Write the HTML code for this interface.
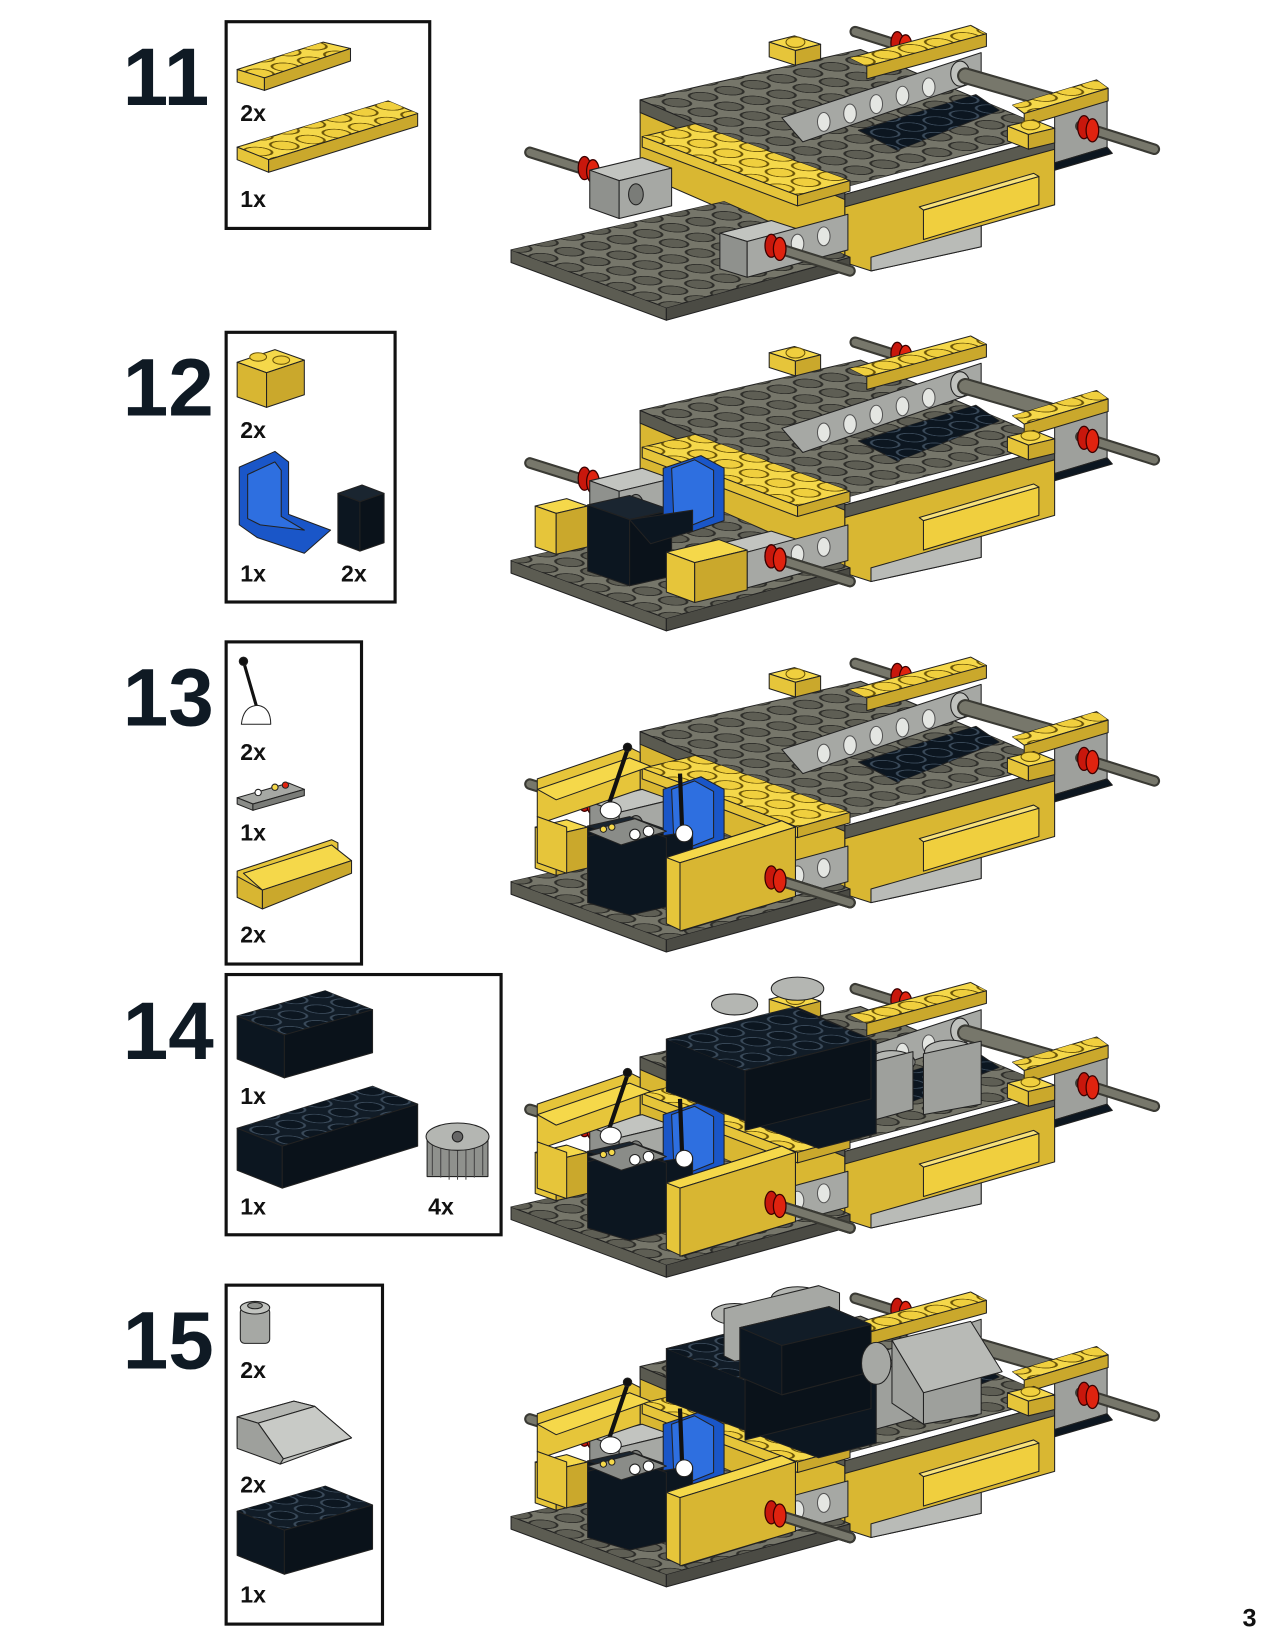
<!DOCTYPE html>
<html><head><meta charset="utf-8"><style>
html,body{margin:0;padding:0;background:#fff}
svg{display:block}
</style></head><body>
<svg width="1275" height="1650" viewBox="0 0 1215 1572" xmlns="http://www.w3.org/2000/svg" xmlns:xlink="http://www.w3.org/1999/xlink">
<defs>
<pattern id="sG" patternUnits="userSpaceOnUse" width="1" height="1" patternTransform="matrix(25,-5.7,24.7,9.2,0,0)"><ellipse cx=".5" cy=".5" rx=".38" ry=".38" fill="#5e5e54" stroke="#2e2e2a" stroke-width=".07"/></pattern>
<pattern id="sY" patternUnits="userSpaceOnUse" width="1" height="1" patternTransform="matrix(25,-5.7,24.7,9.2,0,0)"><ellipse cx=".5" cy=".5" rx=".38" ry=".38" fill="#f0cf3e" stroke="#6a5408" stroke-width=".07"/></pattern>
<pattern id="sB" patternUnits="userSpaceOnUse" width="1" height="1" patternTransform="matrix(25,-5.7,24.7,9.2,0,0)"><ellipse cx=".5" cy=".5" rx=".38" ry=".38" fill="#0c1620" stroke="#3a4a5a" stroke-width=".07"/></pattern>

<g id="axleL" stroke-linejoin="round">
  <line x1="0" y1="0" x2="70" y2="22" stroke="#3a3a34" stroke-width="11" stroke-linecap="round"/>
  <line x1="0" y1="0" x2="70" y2="22" stroke="#77776b" stroke-width="7" stroke-linecap="round"/>
</g>
<g id="bush"><ellipse cx="0" cy="0" rx="6" ry="11" fill="#c8170c" stroke="#3a0000" stroke-width="1.2"/><ellipse cx="8" cy="3" rx="6" ry="11" fill="#e0230f" stroke="#3a0000" stroke-width="1.2"/></g>

<g id="m11" stroke="#222" stroke-width="1" stroke-linejoin="round">
  <use href="#axleL" x="815" y="30"/>
  <use href="#bush" x="855" y="41"/>
  <polygon points="805,185 1005,130 1005,195 935,215 935,235 830,258 805,250" fill="#d9b732"/>
  <polygon points="805,185 1005,130 1005,142 805,197" fill="#5a5a50"/>
  <polygon points="830,245 935,215 935,235 830,258" fill="#b9bbb7"/>
  <polygon points="880,200 990,168 990,195 880,228" fill="#f0cf3e"/>
  <polygon points="880,200 990,168 985,165 876,197" fill="#f8e27a"/>
  <polygon points="1005,105 1055,92 1055,140 1005,155" fill="#9ea09c"/>
  <polygon points="1005,155 1055,140 1060,146 1005,162" fill="#0c1620"/>
  <polygon points="610,95 805,178 805,250 610,165" fill="#d9b732"/>
  <polygon points="610,95 820,47 1005,125 805,178" fill="#76766a"/>
  <polygon points="610,95 820,47 1005,125 805,178" fill="url(#sG)" stroke="none"/>
  <polygon points="610,95 805,178 805,190 610,107" fill="#5a5a50"/>
  <polygon points="745,112 935,50 935,76 765,135" fill="#a6a8a4"/>
  <g fill="#e4e6e2" stroke="#555"><ellipse cx="785" cy="116" rx="6" ry="9"/><ellipse cx="810" cy="108" rx="6" ry="9"/><ellipse cx="835" cy="99" rx="6" ry="9"/><ellipse cx="860" cy="91" rx="6" ry="9"/><ellipse cx="885" cy="83" rx="6" ry="9"/></g>
  <ellipse cx="915" cy="70" rx="9" ry="12" fill="#c0c2be"/>
  <line x1="920" y1="72" x2="1000" y2="95" stroke="#3a3a34" stroke-width="16" stroke-linecap="round"/>
  <line x1="920" y1="72" x2="1000" y2="95" stroke="#77776b" stroke-width="12" stroke-linecap="round"/>
  <polygon points="818,124 930,90 952,105 855,143" fill="#0c1620"/>
  <polygon points="818,124 930,90 952,105 855,143" fill="url(#sB)" stroke="none"/>
  <polygon points="810,55 925,24 940,32 826,63" fill="#f5d84a"/>
  <polygon points="810,55 925,24 940,32 826,63" fill="url(#sY)" stroke="none"/>
  <polygon points="826,63 940,32 940,44 826,75" fill="#caa82c"/>
  <polygon points="733,40 757,34 782,42 758,48" fill="#f5d84a"/>
  <ellipse cx="758" cy="40" rx="9" ry="5" fill="#f0cf3e" stroke="#6a5408"/>
  <polygon points="733,40 758,48 758,62 733,54" fill="#e6c53a"/>
  <polygon points="758,48 782,42 782,56 758,62" fill="#caa82c"/>
  <polygon points="965,100 1045,76 1056,84 976,108" fill="#f5d84a"/>
  <polygon points="965,100 1045,76 1056,84 976,108" fill="url(#sY)" stroke="none"/>
  <polygon points="976,108 1056,84 1056,96 976,120" fill="#caa82c"/>
  <polygon points="960,120 985,114 1005,122 980,128" fill="#f5d84a"/>
  <ellipse cx="982" cy="119" rx="9" ry="4.5" fill="#f0cf3e" stroke="#6a5408"/>
  <polygon points="960,120 980,128 980,142 960,134" fill="#e6c53a"/>
  <polygon points="980,128 1005,122 1005,136 980,142" fill="#caa82c"/>
  <use href="#axleL" x="1030" y="120"/>
  <use href="#bush" x="1033" y="121"/>
  <polygon points="487,238 635,293 635,305 487,250" fill="#5c5c52"/>
  <polygon points="635,293 810,245 810,257 635,305" fill="#4b4b44"/>
  <polygon points="487,238 690,192 810,245 635,293" fill="#76766a"/>
  <polygon points="487,238 690,192 810,245 635,293" fill="url(#sG)" stroke="none"/>
  <use href="#axleL" x="505" y="145"/>
  <use href="#bush" x="557" y="160"/>
  <polygon points="562,162 612,150 640,160 590,172" fill="#c2c4c0"/>
  <polygon points="562,162 590,172 590,208 562,198" fill="#8f918d"/>
  <polygon points="590,172 640,160 640,196 590,208" fill="#a6a8a4"/>
  <ellipse cx="606" cy="185" rx="7" ry="10" fill="#7a7c78"/>
  <polygon points="612,130 662,118 810,172 760,186" fill="#f5d84a"/>
  <polygon points="612,130 662,118 810,172 760,186" fill="url(#sY)" stroke="none"/>
  <polygon points="612,130 760,186 760,196 612,140" fill="#e6c53a"/>
  <polygon points="760,186 810,172 810,182 760,196" fill="#caa82c"/>
  <polygon points="686,222 735,210 760,218 712,230" fill="#c2c4c0"/>
  <polygon points="686,222 712,230 712,264 686,256" fill="#8f918d"/>
  <polygon points="712,230 808,204 808,238 712,264" fill="#a6a8a4"/>
  <g fill="#e4e6e2" stroke="#555"><ellipse cx="760" cy="232" rx="6" ry="9"/><ellipse cx="785" cy="225" rx="6" ry="9"/></g>
  <use href="#axleL" x="740" y="236"/>
  <use href="#bush" x="735" y="234"/>
</g>

<g id="a12" stroke="#222" stroke-width="1" stroke-linejoin="round">
  <polygon points="510,186 540,179 560,186 530,193" fill="#f5d84a"/>
  <polygon points="510,186 530,193 530,232 510,225" fill="#e6c53a"/>
  <polygon points="530,193 560,186 560,225 530,232" fill="#caa82c"/>
  <polygon points="560,185 600,176 640,190 600,199" fill="#1a2530"/>
  <polygon points="560,185 600,199 600,262 560,248" fill="#0c1620"/>
  <polygon points="600,199 640,190 640,253 600,262" fill="#0a121a"/>
  <polygon points="632,150 668,138 690,150 690,200 655,212 632,200" fill="#1a56c8"/>
  <polygon points="640,150 662,142 680,152 680,196 660,204 642,196" fill="#2e6fe0"/>
  <polygon points="600,199 660,190 660,210 620,222" fill="#0c1620"/>
  <polygon points="635,230 685,218 712,228 662,240" fill="#f5d84a"/>
  <polygon points="635,230 662,240 662,278 635,268" fill="#e6c53a"/>
  <polygon points="662,240 712,228 712,266 662,278" fill="#caa82c"/>
  <use href="#axleL" x="740" y="236"/>
  <use href="#bush" x="735" y="234"/>
</g>

<g id="a13" stroke="#222" stroke-width="1" stroke-linejoin="round">
  <polygon points="512,140 600,110 610,115 610,150 522,180 512,176" fill="#e6c53a"/>
  <polygon points="512,150 600,120 620,128 530,160" fill="#f5d84a"/>
  <polygon points="512,176 540,186 540,230 512,220" fill="#e6c53a"/>
  <polygon points="560,195 600,184 635,196 635,262 600,270 560,258" fill="#0c1620"/>
  <polygon points="560,190 605,178 635,190 592,203" fill="#8a8c88"/>
  <circle cx="575" cy="188" r="3" fill="#f5d84a"/><circle cx="583" cy="186" r="3" fill="#f5d84a"/><circle cx="605" cy="193" r="5" fill="#fff"/><circle cx="618" cy="190" r="5" fill="#fff"/>
  <line x1="580" y1="165" x2="598" y2="112" stroke="#111" stroke-width="4"/>
  <circle cx="598" cy="110" r="4" fill="#111"/>
  <ellipse cx="582" cy="170" rx="10" ry="8" fill="#fff"/>
  <line x1="650" y1="188" x2="648" y2="135" stroke="#111" stroke-width="4"/>
  <ellipse cx="652" cy="192" rx="8" ry="8" fill="#fff"/>
  <polygon points="635,215 745,180 758,186 758,252 650,285 635,278" fill="#e6c53a"/>
  <polygon points="635,215 745,180 758,186 648,220" fill="#f5d84a"/>
  <polygon points="648,220 758,186 758,252 648,285" fill="#d8b632"/>
  <use href="#axleL" x="740" y="236"/>
  <use href="#bush" x="735" y="234"/>
</g>

<g id="a14" stroke="#222" stroke-width="1" stroke-linejoin="round">
  <g fill="#b4b6b2"><ellipse cx="700" cy="45" rx="22" ry="10"/><ellipse cx="760" cy="30" rx="25" ry="11"/><ellipse cx="850" cy="100" rx="22" ry="11"/><ellipse cx="905" cy="90" rx="24" ry="11"/></g>
  <polygon points="830,100 870,90 870,145 830,156" fill="#9ea09c"/>
  <polygon points="880,92 935,80 935,140 880,150" fill="#9ea09c"/>
  <polygon points="635,78 760,48 835,80 835,125 835,168 780,182 635,128" fill="#0c1620"/>
  <polygon points="635,78 755,48 830,78 710,108" fill="#111c27"/>
  <polygon points="635,78 755,48 830,78 710,108" fill="url(#sB)" stroke="none"/>
  <polygon points="710,108 830,78 830,135 710,165" fill="#0a121a"/>
</g>

<g id="a15" stroke="#222" stroke-width="1" stroke-linejoin="round">
  <polygon points="690,40 780,18 800,25 800,70 700,90 690,85" fill="#a6a8a4"/>
  <polygon points="705,58 790,38 830,55 830,100 745,122 705,105" fill="#0c1620"/>
  <polygon points="705,58 790,38 830,55 745,75" fill="#111c27"/>
  <polygon points="745,75 830,55 830,100 745,122" fill="#0a121a"/>
  <polygon points="850,70 925,52 955,100 880,120" fill="#b8bab6"/>
  <polygon points="850,70 880,120 880,150 850,130" fill="#9ea09c"/>
  <ellipse cx="835" cy="92" rx="14" ry="20" fill="#a6a8a4"/>
</g>
</defs>

<g font-family="Liberation Sans, sans-serif" font-weight="bold" font-size="78" fill="#0f1a24">
<text x="117" y="100">11</text>
<text x="117" y="396">12</text>
<text x="117" y="691">13</text>
<text x="117" y="1009">14</text>
<text x="117" y="1304">15</text>
</g>
<text x="1184" y="1550" font-family="Liberation Sans, sans-serif" font-weight="bold" font-size="24" fill="#111">3</text>

<g fill="none" stroke="#111" stroke-width="3">
<rect x="215.5" y="20.5" width="194" height="197"/>
<rect x="215.5" y="316.5" width="161" height="257"/>
<rect x="215.5" y="611.5" width="129" height="307"/>
<rect x="215.5" y="928.5" width="262" height="248"/>
<rect x="215.5" y="1224.5" width="149" height="323"/>
</g>
<g font-family="Liberation Sans, sans-serif" font-weight="bold" font-size="22" fill="#111">
<text x="229" y="115">2x</text><text x="229" y="197">1x</text>
<text x="229" y="417">2x</text><text x="229" y="554">1x</text><text x="325" y="554">2x</text>
<text x="229" y="724">2x</text><text x="229" y="801">1x</text><text x="229" y="898">2x</text>
<text x="229" y="1052">1x</text><text x="229" y="1157">1x</text><text x="408" y="1157">4x</text>
<text x="229" y="1313">2x</text><text x="229" y="1422">2x</text><text x="229" y="1527">1x</text>
</g>
<g stroke="#222" stroke-width="1" stroke-linejoin="round">
<polygon points="226,66 308,40 334,46 252,74" fill="#f5d84a"/>
<polygon points="226,66 308,40 334,46 252,74" fill="url(#sY)" stroke="none"/>
<polygon points="226,66 252,74 252,86 226,78" fill="#e6c53a"/>
<polygon points="252,74 334,46 334,58 252,86" fill="#caa82c"/>
<polygon points="226,140 370,96 398,108 256,152" fill="#f5d84a"/>
<polygon points="226,140 370,96 398,108 256,152" fill="url(#sY)" stroke="none"/>
<polygon points="226,140 256,152 256,164 226,152" fill="#e6c53a"/>
<polygon points="256,152 398,108 398,120 256,164" fill="#caa82c"/>
<polygon points="226,345 262,333 290,343 254,355" fill="#f5d84a"/>
<ellipse cx="246" cy="340" rx="8" ry="4" fill="#f0cf3e" stroke="#6a5408"/><ellipse cx="268" cy="343" rx="8" ry="4" fill="#f0cf3e" stroke="#6a5408"/>
<polygon points="226,345 254,355 254,388 226,378" fill="#d8b632"/>
<polygon points="254,355 290,343 290,376 254,388" fill="#caa82c"/>
<polygon points="228,445 262,430 275,440 275,490 315,505 290,527 245,512 228,500" fill="#1a56c8"/>
<polygon points="236,452 262,440 268,448 268,492 290,505 248,500 236,494" fill="#2e6fe0"/>
<polygon points="322,470 345,462 366,470 343,478" fill="#1a2530"/>
<polygon points="322,470 343,478 343,525 322,517" fill="#0c1620"/>
<polygon points="343,478 366,470 366,517 343,525" fill="#0a121a"/>
<line x1="232" y1="630" x2="245" y2="675" stroke="#111" stroke-width="3"/>
<circle cx="232" cy="630" r="4" fill="#111"/>
<path d="M230,690 Q232,672 246,672 Q258,674 258,690 Z" fill="#fff"/>
<polygon points="226,760 275,746 290,752 241,766" fill="#a6a8a4"/>
<polygon points="226,760 241,766 241,772 226,766" fill="#8a8c88"/>
<polygon points="241,766 290,752 290,758 241,772" fill="#7a7c78"/>
<circle cx="246" cy="755" r="3" fill="#fff"/><circle cx="262" cy="750" r="3" fill="#f5d84a"/><circle cx="272" cy="748" r="3" fill="#e0230f"/>
<polygon points="226,830 316,800 322,803 322,830 240,857 226,851" fill="#e6c53a"/>
<polygon points="232,832 316,805 335,820 250,848" fill="#f5d84a"/>
<polygon points="250,848 335,820 335,832 250,866" fill="#caa82c"/>
<polygon points="226,835 250,848 250,866 226,855" fill="#d8b632"/>
<polygon points="226,968 310,944 355,962 271,986" fill="#111c27"/>
<polygon points="226,968 310,944 355,962 271,986" fill="url(#sB)" stroke="none"/>
<polygon points="226,968 271,986 271,1027 226,1009" fill="#0c1620"/>
<polygon points="271,986 355,962 355,1003 271,1027" fill="#0a121a"/>
<polygon points="226,1075 355,1035 398,1052 269,1092" fill="#111c27"/>
<polygon points="226,1075 355,1035 398,1052 269,1092" fill="url(#sB)" stroke="none"/>
<polygon points="226,1075 269,1092 269,1132 226,1115" fill="#0c1620"/>
<polygon points="269,1092 398,1052 398,1092 269,1132" fill="#0a121a"/>
<rect x="407" y="1085" width="58" height="36" fill="#8f918d"/>
<g stroke="#444"><line x1="412" y1="1087" x2="412" y2="1120"/><line x1="420" y1="1087" x2="420" y2="1122"/><line x1="428" y1="1087" x2="428" y2="1124"/><line x1="436" y1="1087" x2="436" y2="1124"/><line x1="444" y1="1087" x2="444" y2="1124"/><line x1="452" y1="1087" x2="452" y2="1122"/><line x1="460" y1="1087" x2="460" y2="1120"/></g>
<ellipse cx="436" cy="1083" rx="30" ry="13" fill="#b4b6b2"/>
<circle cx="436" cy="1083" r="5" fill="#666"/>
<rect x="229" y="1246" width="28" height="34" rx="4" fill="#a6a8a4"/>
<ellipse cx="243" cy="1246" rx="14" ry="6" fill="#c2c4c0"/>
<ellipse cx="243" cy="1244" rx="7" ry="3" fill="#8f918d"/>
<polygon points="226,1350 280,1335 300,1340 335,1370 267,1395 226,1378" fill="#c2c4c0"/>
<polygon points="226,1350 280,1335 300,1340 246,1356" fill="#b4b6b2"/>
<polygon points="246,1356 300,1340 335,1370 270,1390" fill="#c8cac6"/>
<polygon points="226,1350 246,1356 270,1390 267,1395 226,1380" fill="#9ea09c"/>
<polygon points="226,1440 310,1416 355,1434 271,1458" fill="#111c27"/>
<polygon points="226,1440 310,1416 355,1434 271,1458" fill="url(#sB)" stroke="none"/>
<polygon points="226,1440 271,1458 271,1500 226,1482" fill="#0c1620"/>
<polygon points="271,1458 355,1434 355,1476 271,1500" fill="#0a121a"/>
</g>

<use href="#m11"/>
<g transform="translate(0,296)"><use href="#m11"/><use href="#a12"/></g>
<g transform="translate(0,602)"><use href="#m11"/><use href="#a12"/><use href="#a13"/></g>
<g transform="translate(0,912)"><use href="#m11"/><use href="#a12"/><use href="#a14"/><use href="#a13"/></g>
<g transform="translate(0,1207)"><use href="#m11"/><use href="#a12"/><use href="#a14"/><use href="#a15"/><use href="#a13"/></g>
</svg>
</body></html>
